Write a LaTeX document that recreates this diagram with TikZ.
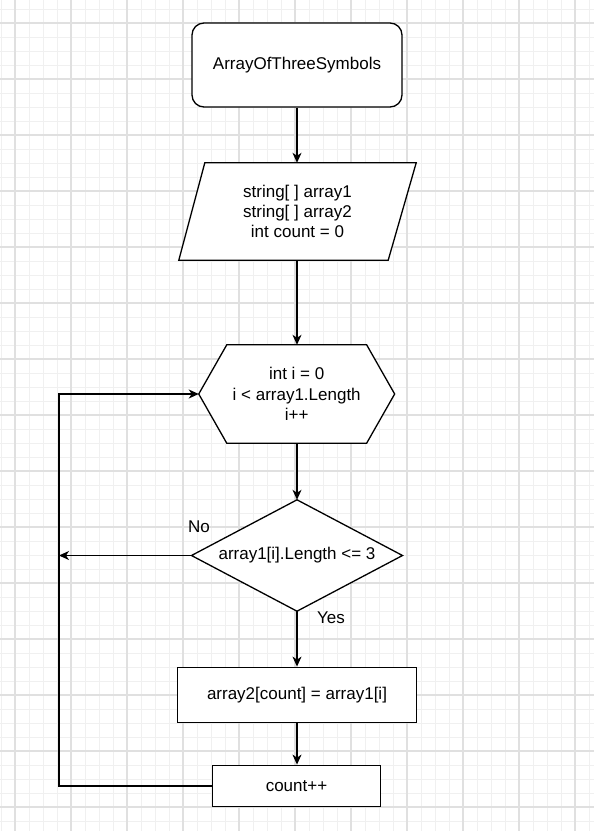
\documentclass[tikz,border=0pt]{standalone}
\usepackage{fontspec}
\setmainfont{Liberation Sans}
\usetikzlibrary{arrows.meta}
\begin{document}
\begin{tikzpicture}[x=1pt,y=-1pt,
  txt/.style={font=\fontsize{17}{20.3}\selectfont},
  box/.style={rectangle, draw, line width=1.3pt, align=center, inner sep=0pt, txt},
  frame/.style={rectangle, align=center, inner sep=0pt, txt},
  outline/.style={line width=1.3pt, line join=miter},
  edge/.style={line width=1.3pt, -{Stealth[length=10pt,width=9pt,inset=3pt]}},
  wire/.style={line width=1.3pt},
  minorgrid/.style={line width=1pt, draw=black!6},
  majorgrid/.style={line width=1.2pt, draw=black!12},
  tag/.style={inner sep=0pt, txt}]

% background and grid
\fill[white] (0,0) rectangle (594,831);
\useasboundingbox (0,0) rectangle (594,831);
\foreach \x in {1,15,...,594} \draw[minorgrid] (\x,0) -- (\x,831);
\foreach \y in {9,23,...,831} \draw[minorgrid] (0,\y) -- (594,\y);
\foreach \x in {15,71,...,594} \draw[majorgrid] (\x,0) -- (\x,831);
\foreach \y in {23,79,...,831} \draw[majorgrid] (0,\y) -- (594,\y);

% start terminal
\node[box, fill=white, rounded corners=12pt, minimum width=210pt, minimum height=84pt]
  (start) at (297,65) {ArrayOfThreeSymbols};

% input / declarations (parallelogram)
\node[frame, minimum width=237pt, minimum height=97pt] (input) at (297.5,211.5) {};
\fill[white] ([xshift=26pt]input.north west) -- (input.north east)
  -- ([xshift=-28pt]input.south east) -- (input.south west) -- cycle;
\draw[outline] ([xshift=26pt]input.north west) -- (input.north east)
  -- ([xshift=-28pt]input.south east) -- (input.south west) -- cycle;
\node[frame] at (input) {string[ ] array1\\string[ ] array2\\int count = 0};

% loop header (hexagon)
\node[frame, minimum width=195.5pt, minimum height=98pt] (loop) at (296.7,394) {};
\fill[white] ([xshift=28pt]loop.north west) -- ([xshift=-28pt]loop.north east)
  -- (loop.east) -- ([xshift=-28pt]loop.south east) -- ([xshift=28pt]loop.south west)
  -- (loop.west) -- cycle;
\draw[outline] ([xshift=28pt]loop.north west) -- ([xshift=-28pt]loop.north east)
  -- (loop.east) -- ([xshift=-28pt]loop.south east) -- ([xshift=28pt]loop.south west)
  -- (loop.west) -- cycle;
\node[frame] at (loop) {int i = 0\\i < array1.Length\\i++};

% condition (diamond)
\node[frame, minimum width=210.6pt, minimum height=111pt] (cond) at (297,555.5) {};
\fill[white] (cond.north) -- (cond.east) -- (cond.south) -- (cond.west) -- cycle;
\draw[outline] (cond.north) -- (cond.east) -- (cond.south) -- (cond.west) -- cycle;
\node[frame] at (cond) {array1[i].Length <= 3};

% process steps
\node[box, fill=white, minimum width=238.5pt, minimum height=55.5pt]
  (assign) at (297,695) {array2[count] = array1[i]};
\node[box, fill=white, minimum width=168.5pt, minimum height=41.5pt]
  (inc) at (296.5,786) {count++};

% connectors
\coordinate (rail) at (59,0);
\draw[edge] (start.south) -- (start.south |- input.north);
\draw[edge] (input.south -| start.south) -- (start.south |- loop.north);
\draw[edge] (loop.south -| start.south) -- (start.south |- cond.north);
\draw[edge] (cond.south) -- (assign.north);
\draw[edge] (assign.south) -- (assign.south |- inc.north);
\draw[edge] (cond.west) -- (cond.west -| rail);
\draw[edge] (inc.west) -- (inc.west -| rail) -- (rail |- loop.west) -- (loop.west);

% branch labels
\node[tag] (no) at (199,527) {No};
\node[tag] (yes) at (331,618) {Yes};
\end{tikzpicture}
\end{document}
